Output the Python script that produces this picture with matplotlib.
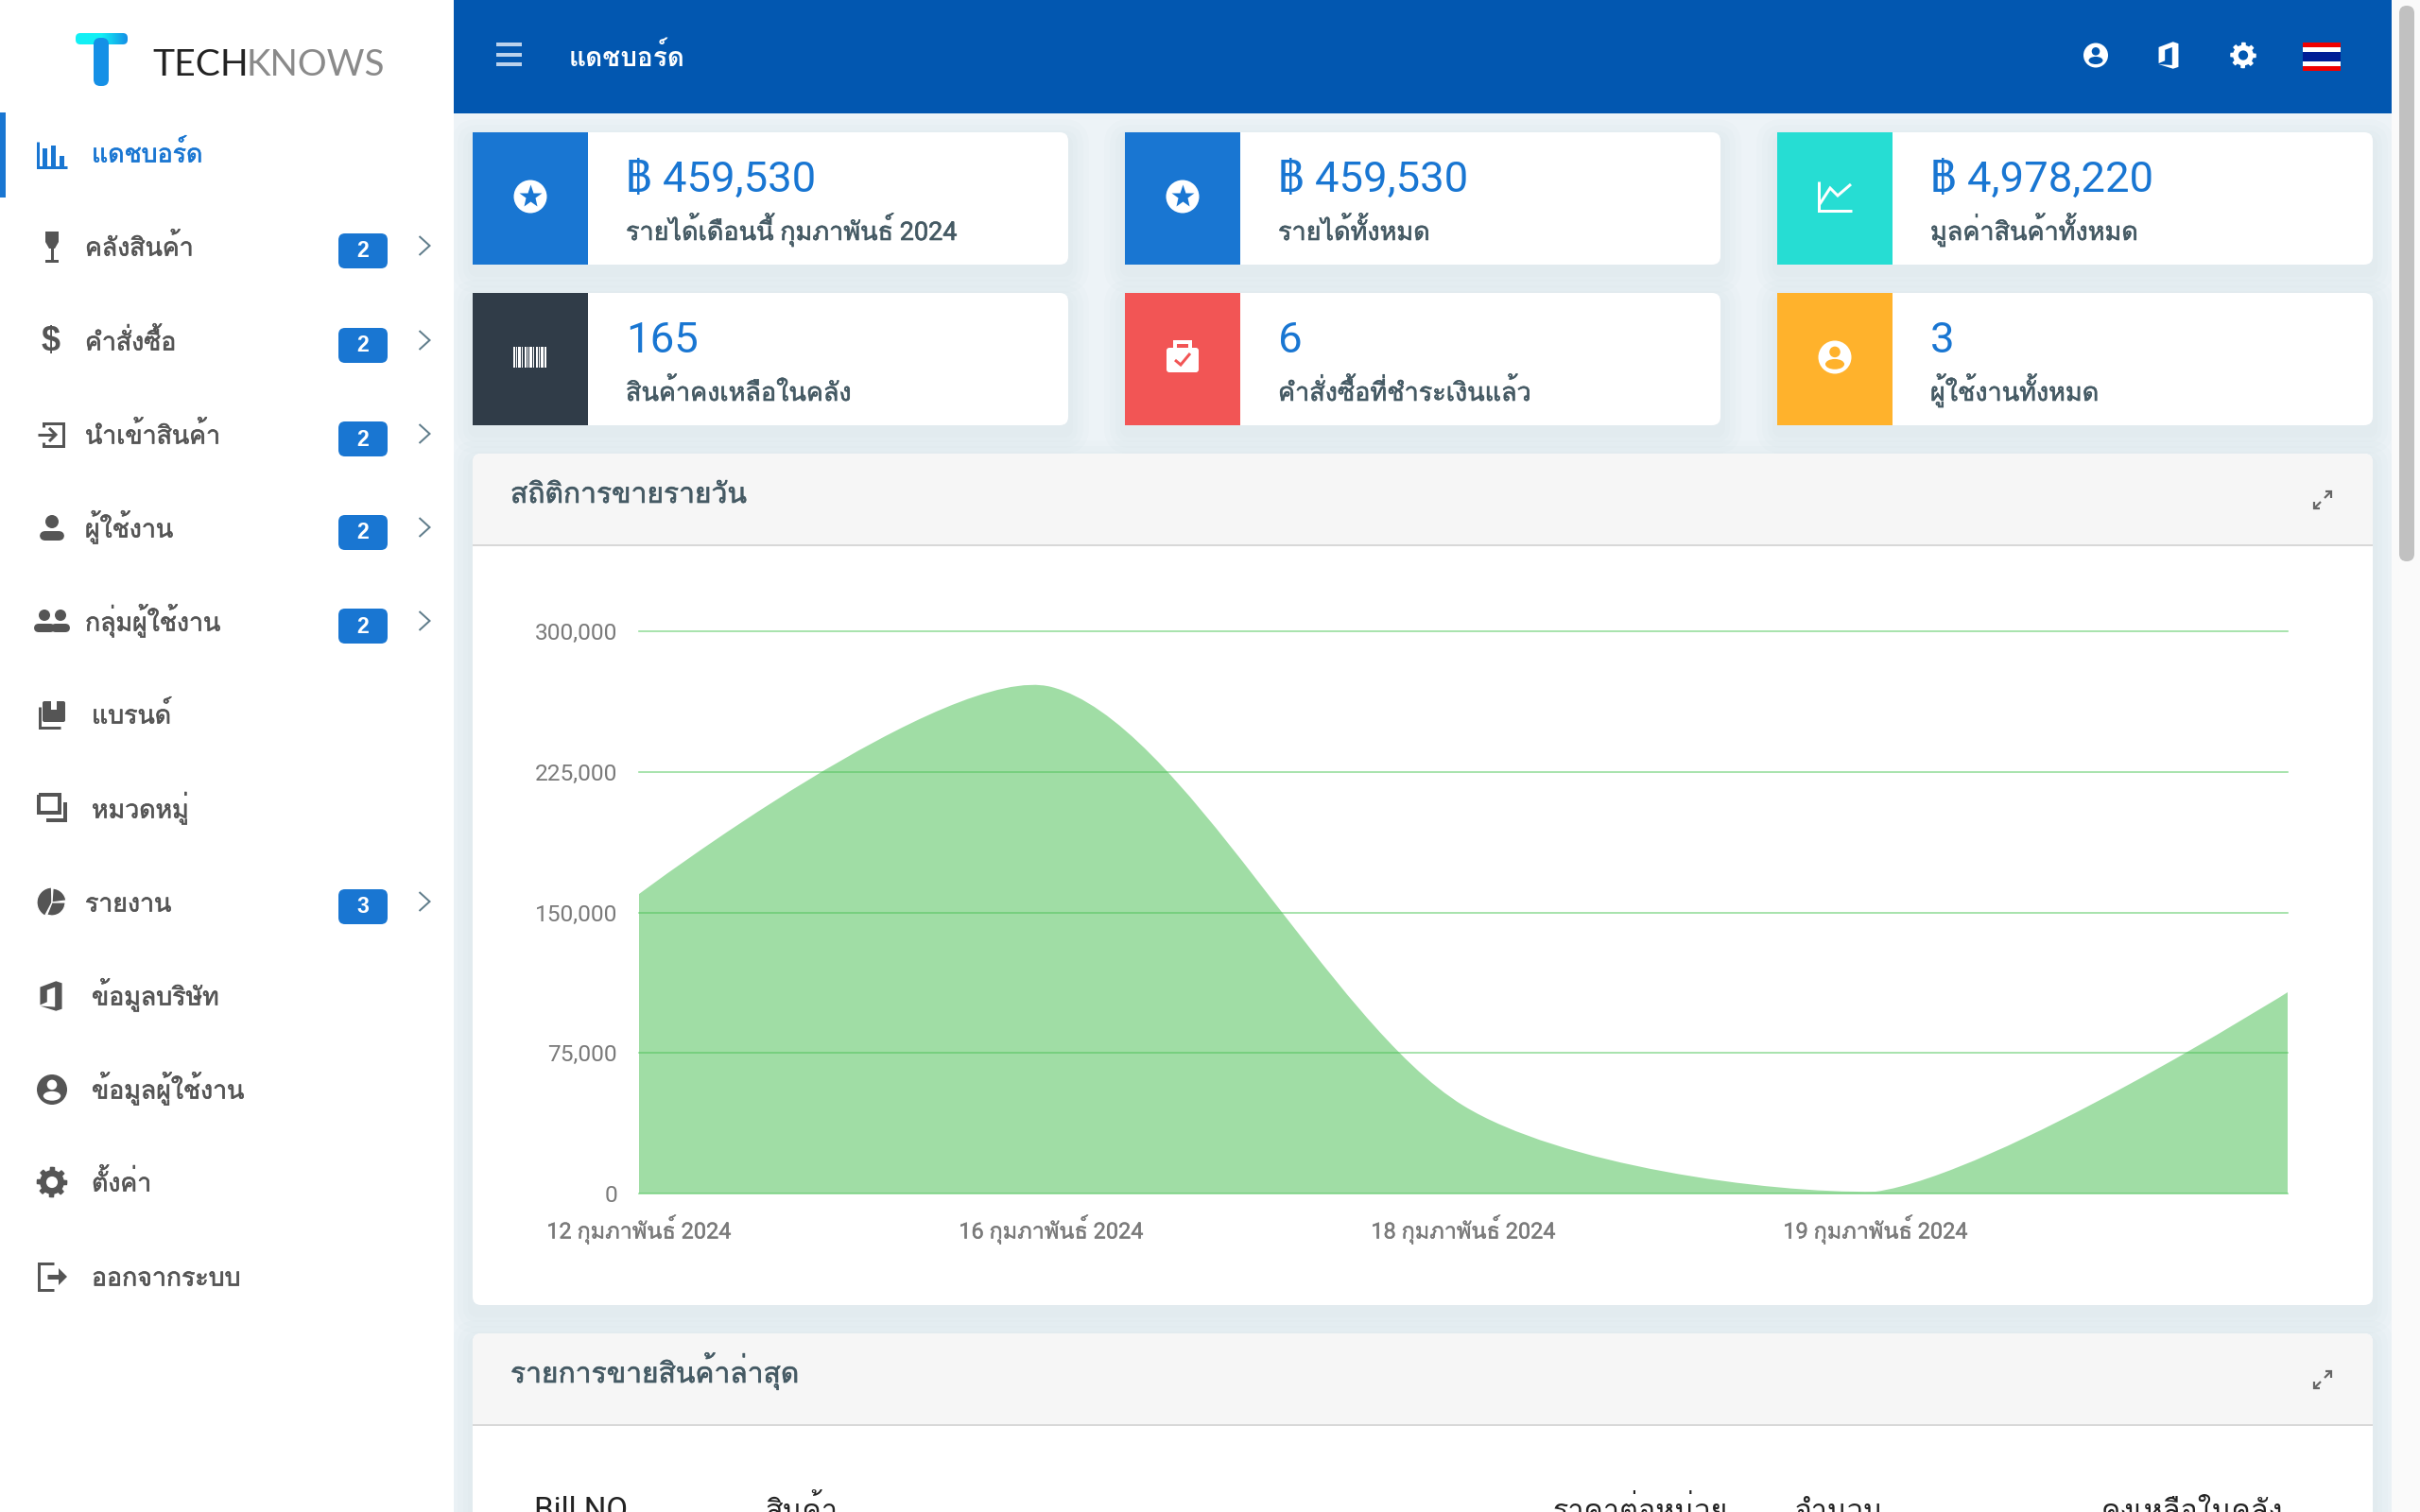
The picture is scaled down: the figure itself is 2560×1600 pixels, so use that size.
import matplotlib
matplotlib.use("Agg")
import matplotlib.patheffects as pe
import matplotlib.pyplot as plt
import numpy as np
from matplotlib.patches import Circle, Ellipse, FancyBboxPatch, PathPatch, Polygon, Rectangle, Wedge
from matplotlib.path import Path

THAI = ["Roboto", "Loma", "DejaVu Sans"]
plt.rcParams["font.family"] = THAI

BLUE = "#1976D2"
TEXT = "#455A64"
GREY = "#555555"

# chart data
day_labels = ["12 กุมภาพันธ์ 2024", "16 กุมภาพันธ์ 2024", "18 กุมภาพันธ์ 2024", "19 กุมภาพันธ์ 2024", ""]
sales = [159800, 270300, 46900, 1000, 107400]
y_ticks = [0, 75000, 150000, 225000, 300000]

# sidebar
menu_labels = ["แดชบอร์ด", "คลังสินค้า", "คำสั่งซื้อ", "นำเข้าสินค้า", "ผู้ใช้งาน", "กลุ่มผู้ใช้งาน",
               "แบรนด์", "หมวดหมู่", "รายงาน", "ข้อมูลบริษัท", "ข้อมูลผู้ใช้งาน", "ตั้งค่า", "ออกจากระบบ"]
menu_badges = [None, 2, 2, 2, 2, 2, None, None, 3, None, None, None, None]

# stat cards
card_values = ["฿ 459,530", "฿ 459,530", "฿ 4,978,220", "165", "6", "3"]
card_labels = ["รายได้เดือนนี้ กุมภาพันธ์ 2024", "รายได้ทั้งหมด", "มูลค่าสินค้าทั้งหมด",
               "สินค้าคงเหลือในคลัง", "คำสั่งซื้อที่ชำระเงินแล้ว", "ผู้ใช้งานทั้งหมด"]
card_colors = [BLUE, BLUE, "#26DDD3", "#303C48", "#F25555", "#FFB22C"]

table_heads = ["Bill NO", "สินค้า", "ราคาต่อหน่วย", "จำนวน", "คงเหลือในคลัง"]


def px(size):
    return size * 0.72


def thick(color, width=0.45):
    return [pe.withStroke(linewidth=width, foreground=color)]


def rect(ax, x0, y0, x1, y1, color, z=2, radius=0, alpha=None):
    if radius:
        p = FancyBboxPatch((x0 + radius, y0 + radius), x1 - x0 - 2 * radius, y1 - y0 - 2 * radius,
                           boxstyle=f"round,pad={radius},rounding_size={radius}",
                           fc=color, ec="none", zorder=z, alpha=alpha)
    else:
        p = Rectangle((x0, y0), x1 - x0, y1 - y0, fc=color, ec="none", zorder=z, alpha=alpha)
    ax.add_patch(p)
    return p


def shadow(ax, x0, y0, x1, y1):
    for grow in (22, 16, 10, 5):
        rect(ax, x0 - grow, y0 - grow + 8, x1 + grow, y1 + grow + 8, "#8FA6B5", z=1, radius=grow + 6, alpha=0.022)


def line(ax, xs, ys, color, lw=3.0, z=5, cap="butt", join="miter"):
    ax.plot(xs, ys, color=color, lw=px(lw), zorder=z, solid_capstyle=cap, solid_joinstyle=join)


def icon_account(ax, cx, cy, r, fg, bg):
    ax.add_patch(Circle((cx, cy), r, fc=fg, ec="none", zorder=5))
    ax.add_patch(Circle((cx, cy - r * 0.32), r * 0.33, fc=bg, ec="none", zorder=6))
    ax.add_patch(Ellipse((cx, cy + r * 0.42), r * 1.15, r * 0.62, fc=bg, ec="none", zorder=6))


def icon_star(ax, cx, cy, r, fg, bg):
    ax.add_patch(Circle((cx, cy), r, fc=fg, ec="none", zorder=5))
    ax.plot([cx], [cy], marker="*", ms=px(r * 1.45), color=bg, mec="none", zorder=6)


def icon_gear(ax, cx, cy, r, fg, bg):
    ang = np.linspace(0, 2 * np.pi, 96, endpoint=False)
    rad = r * (0.80 + 0.22 * (np.cos(8 * ang) > 0))
    ax.add_patch(Polygon(np.c_[cx + rad * np.cos(ang), cy + rad * np.sin(ang)], fc=fg, ec="none", zorder=5))
    ax.add_patch(Circle((cx, cy), r * 0.38, fc=bg, ec="none", zorder=6))


def icon_office(ax, cx, cy, s, fg):
    pts = [(-11, -9), (5, -15), (11, -13), (11, 13), (5, 15), (-11, 10), (4, 11), (4, -9), (-4, -6), (-4, 6), (-11, 9)]
    ax.add_patch(Polygon([(cx + a * s, cy + b * s) for a, b in pts], fc=fg, ec="none", zorder=5))


def icon_expand(ax, cx, cy):
    c = "#666666"
    line(ax, [cx - 8, cx - 2], [cy + 8, cy + 2], c, 2.2)
    line(ax, [cx + 2, cx + 8], [cy - 2, cy - 8], c, 2.2)
    line(ax, [cx - 9, cx - 9, cx - 3], [cy + 2, cy + 9, cy + 9], c, 2.2)
    line(ax, [cx + 3, cx + 9, cx + 9], [cy - 9, cy - 9, cy - 2], c, 2.2)


def draw_logo(ax):
    grad = np.linspace(0, 1, 64).reshape(1, -1)
    cmap = matplotlib.colors.LinearSegmentedColormap.from_list("logo", ["#12F0F5", "#12F0F5", "#1590E6"])
    im = ax.imshow(grad, extent=(80, 135, 47, 35), cmap=cmap, aspect="auto", zorder=4)
    clip = rect(ax, 80, 35, 135, 47, "none", z=1, radius=5)
    im.set_clip_path(clip)
    ax.set_xlim(0, 2560)
    ax.set_ylim(1600, 0)
    rect(ax, 99, 40, 115, 91, "#1590E6", z=5, radius=7)
    ax.text(161, 80, "TECH", fontsize=px(39), family=["Lato"], color="#222222", va="baseline", zorder=5)
    ax.text(261, 80, "KNOWS", fontsize=px(38.5), family=["Lato"], color="#8A8A8A", va="baseline", zorder=5)


def draw_menu_icon(ax, i, cy):
    cx = 55
    c = BLUE if i == 0 else GREY
    if i == 0:
        line(ax, [40, 40, 71], [150, 177, 177], c, 3)
        for bx, top in zip((45, 54, 63), (157, 154, 165)):
            rect(ax, bx, top, bx + 5, 177, c, z=5)
    elif i == 1:
        ax.add_patch(Polygon([(cx - 7, cy - 16), (cx + 7, cy - 16), (cx + 7, cy - 5), (cx + 3, cy + 2), (cx - 3, cy + 2), (cx - 7, cy - 5)],
                             fc=c, ec="none", zorder=5))
        rect(ax, cx - 1.5, cy, cx + 1.5, cy + 15, c, z=5)
        rect(ax, cx - 7, cy + 14, cx + 7, cy + 17, c, z=5)
    elif i == 2:
        ax.text(cx - 1, cy + 1, "$", fontsize=px(36), family=["Liberation Sans"], weight="bold", color=c,
                ha="center", va="center", zorder=5)
    elif i == 3:
        line(ax, [46, 46, 67, 67, 46, 46], [cy - 8, cy - 12, cy - 12, cy + 12, cy + 12, cy + 8], c, 3)
        line(ax, [40, 58], [cy, cy], c, 3)
        line(ax, [52, 59, 52], [cy - 7, cy, cy + 7], c, 3)
    elif i == 4:
        ax.add_patch(Circle((cx, cy - 7), 7, fc=c, ec="none", zorder=5))
        ax.add_patch(FancyBboxPatch((cx - 11, cy + 5), 22, 6, boxstyle="round,pad=2,rounding_size=6", fc=c, ec="none", zorder=5))
    elif i == 5:
        for dx, w in ((-8, 10), (9, 9)):
            ax.add_patch(Circle((cx + dx, cy - 7), 6, fc=c, ec="none", zorder=5))
            ax.add_patch(FancyBboxPatch((cx + dx - w + 1, cy + 4), 2 * w - 2, 5, boxstyle="round,pad=2,rounding_size=5", fc=c, ec="none", zorder=5))
    elif i == 6:
        rect(ax, 45, cy - 14, 69, cy + 8, c, z=5, radius=2)
        line(ax, [42, 42, 64], [cy - 8, cy + 14, cy + 14], c, 3)
        rect(ax, 54, cy - 14, 60, cy - 5, "white", z=6)
    elif i == 7:
        line(ax, [41, 63, 63, 41, 41], [cy - 15, cy - 15, cy + 4, cy + 4, cy - 15], c, 4)
        line(ax, [69, 69, 49], [cy - 7, cy + 12, cy + 12], c, 4)
    elif i == 8:
        # y runs downward here, so angles go clockwise on screen
        for a0, a1, r in ((118, 268, 16), (274, 352, 15), (0, 112, 14)):
            ax.add_patch(Wedge((cx, cy), r, a0, a1, fc=c, ec="white", lw=px(1.2), zorder=5))
    elif i == 9:
        icon_office(ax, cx - 1, cy, 1.05, c)
    elif i == 10:
        icon_account(ax, cx, cy, 16, c, "white")
    elif i == 11:
        icon_gear(ax, cx, cy, 16, c, "white")
    elif i == 12:
        line(ax, [57, 41, 41, 57], [cy - 14, cy - 14, cy + 14, cy + 14], c, 3)
        line(ax, [50, 66], [cy, cy], c, 5)
        ax.add_patch(Polygon([(62, cy - 9), (71, cy), (62, cy + 9)], fc=c, ec="none", zorder=5))


def draw_card_icon(ax, i, cx, cy):
    bg = card_colors[i]
    if i in (0, 1):
        icon_star(ax, cx, cy, 17.5, "white", bg)
    elif i == 2:
        line(ax, [cx - 17, cx - 17, cx + 18], [cy - 16, cy + 15, cy + 15], "white", 3)
        line(ax, [cx - 16, cx - 5, cx + 3, cx + 17], [cy + 8, cy - 9, cy - 1, cy - 13], "white", 3)
    elif i == 3:
        xp = cx - 18
        for w, gap in ((2, 1), (1, 1), (3, 1), (1, 2), (2, 1), (1, 1), (3, 1), (1, 2), (2, 1), (1, 1), (3, 1), (2, 0)):
            rect(ax, xp, cy - 11, xp + w, cy + 11, "white", z=5)
            xp += w + gap
    elif i == 4:
        rect(ax, cx - 17, cy - 10, cx + 17, cy + 16, "white", z=5, radius=3)
        line(ax, [cx - 8, cx - 8, cx + 8, cx + 8], [cy - 10, cy - 16, cy - 16, cy - 10], "white", 4)
        line(ax, [cx - 8, cx - 2, cx + 8], [cy + 3, cy + 8, cy - 4], bg, 3)
    elif i == 5:
        icon_account(ax, cx, cy, 17.5, "white", bg)


def draw_chrome(ax):
    rect(ax, 0, 0, 480, 1600, "white", z=3)
    rect(ax, 480, 0, 2530, 120, "#0257B0", z=3)
    rect(ax, 2530, 0, 2560, 1600, "#FAFAFA", z=3)
    rect(ax, 2538, 6, 2554, 594, "#C1C1C1", z=4, radius=8)
    rect(ax, 0, 119, 6, 209, BLUE, z=4)

    for y in (47, 57.5, 68):
        rect(ax, 525, y - 2, 552, y + 2, "#BBD2EC", z=5)
    ax.text(602, 70, menu_labels[0], fontsize=px(28), weight="bold", color="white", va="baseline", zorder=5)

    icon_account(ax, 2217, 58.5, 13, "white", "#0257B0")
    icon_office(ax, 2294, 58.5, 0.95, "white")
    icon_gear(ax, 2373, 58.5, 13.5, "white", "#0257B0")
    for y0, y1, col in ((45, 75, "#F00000"), (50, 70, "white"), (55, 65, "#001E96")):
        rect(ax, 2436, y0, 2476, y1, col, z=5)


def draw_menu(ax):
    rows = [162, 261, 361, 460, 559, 658, 756, 856, 955, 1054, 1153, 1251, 1351]
    for i, (label, badge, cy) in enumerate(zip(menu_labels, menu_badges, rows)):
        tx = 90 if badge else 97
        col = BLUE if i == 0 else GREY
        ax.text(tx, cy + 9.5, label, fontsize=px(26.7), color=col, va="baseline", zorder=5, path_effects=thick(col))
        draw_menu_icon(ax, i, cy)
        if badge:
            rect(ax, 358, cy - 14, 410, cy + 23, BLUE, z=5, radius=7)
            ax.text(384, cy + 5, str(badge), fontsize=px(23), family=["Liberation Sans"], weight="bold",
                    color="white", ha="center", va="center", zorder=6)
            line(ax, [443.5, 454.5, 443.5], [cy - 11, cy - 1, cy + 9], "#607D8B", 2)


def draw_cards(ax):
    xs = [(500, 622, 1130, 662), (1190, 1312, 1820, 1352), (1880, 2002, 2510, 2042)]
    ys = [(140, 280), (310, 450)]
    for i in range(6):
        x0, xi, x1, tx = xs[i % 3]
        y0, y1 = ys[i // 3]
        shadow(ax, x0, y0, x1, y1)
        rect(ax, x0, y0, x1, y1, "white", z=2, radius=9)
        rect(ax, x0, y0, xi, y1, card_colors[i], z=3)
        draw_card_icon(ax, i, (x0 + xi) / 2, (y0 + y1) / 2 - 2)
        ax.text(tx, y0 + 63, card_values[i], fontsize=px(45.5), color=BLUE, va="baseline", zorder=5)
        ax.text(tx, y0 + 114, card_labels[i], fontsize=px(27), color=TEXT, va="baseline", zorder=5,
                path_effects=thick(TEXT))


def draw_panel(ax, y0, y1, title, bottom_open=False):
    shadow(ax, 500, y0, 2510, y1)
    rect(ax, 500, y0, 2510, y1 + (30 if bottom_open else 0), "white", z=2, radius=9)
    rect(ax, 500, y0, 2510, y0 + 60, "#F6F6F6", z=2, radius=9)
    rect(ax, 500, y0 + 20, 2510, y0 + 96, "#F6F6F6", z=2)
    rect(ax, 500, y0 + 96, 2510, y0 + 98, "#D8D8D8", z=3)
    ax.text(540, y0 + 52, title, fontsize=px(30), color=TEXT, va="baseline", zorder=5, path_effects=thick(TEXT))
    icon_expand(ax, 2457, y0 + 49)


def draw_chart(fig, W, H):
    left, right, top, bottom = 676, 2420, 668, 1263
    ax = fig.add_axes([left / W, 1 - bottom / H, (right - left) / W, (bottom - top) / H], zorder=2)
    ax.patch.set_alpha(0)
    xs = np.arange(len(sales))
    ax.set_xlim(xs[0], xs[-1])
    ax.set_ylim(0, y_ticks[-1])

    # same kind of spline as the chart on the page, worked out in pixels
    tension = 0.28
    pts = ax.transData.transform(np.c_[xs, sales])
    verts = [pts[0]]
    codes = [Path.MOVETO]
    out_ctrl = pts[0]
    for i in range(1, len(pts)):
        if i < len(pts) - 1:
            d01 = np.hypot(*(pts[i] - pts[i - 1]))
            d12 = np.hypot(*(pts[i + 1] - pts[i]))
            tan = pts[i + 1] - pts[i - 1]
            in_ctrl = pts[i] - tension * d01 / (d01 + d12) * tan
            next_ctrl = pts[i] + tension * d12 / (d01 + d12) * tan
        else:
            in_ctrl = pts[i]
            next_ctrl = pts[i]
        verts += [out_ctrl, in_ctrl, pts[i]]
        codes += [Path.CURVE4] * 3
        out_ctrl = next_ctrl
    base = ax.transData.transform([(xs[-1], 0), (xs[0], 0)])
    verts += [base[0], base[1], pts[0]]
    codes += [Path.LINETO, Path.LINETO, Path.CLOSEPOLY]
    verts = ax.transData.inverted().transform(np.array(verts))
    verts[:, 1] = np.clip(verts[:, 1], 0, y_ticks[-1])
    ax.add_patch(PathPatch(Path(verts, codes), fc="#4CBF56", ec="none", alpha=0.53, zorder=3))

    ax.set_yticks(y_ticks, [f"{v:,}" for v in y_ticks])
    ax.set_xticks(xs, day_labels)
    ax.grid(axis="y", color="#94DD9B", lw=px(1.6))
    ax.set_axisbelow(True)
    for gl in ax.get_ygridlines():
        gl.set_clip_on(False)
    ax.tick_params(length=0, labelcolor="#7A7A7A")
    ax.tick_params(axis="y", labelsize=px(24.5), pad=px(23))
    ax.tick_params(axis="x", labelsize=px(23.5), pad=px(23.5))
    for s in ax.spines.values():
        s.set_visible(False)
    for lab in ax.get_xticklabels():
        lab.set_path_effects(thick("#7A7A7A", 0.3))


def main():
    W, H = 2560, 1600
    fig = plt.figure(figsize=(W / 100, H / 100), dpi=100, facecolor="#EDF3F7")
    ax = fig.add_axes([0, 0, 1, 1], zorder=1)
    ax.set_xlim(0, W)
    ax.set_ylim(H, 0)
    ax.axis("off")

    draw_logo(ax)
    draw_chrome(ax)
    draw_menu(ax)
    draw_cards(ax)
    draw_panel(ax, 480, 1381, "สถิติการขายรายวัน")
    draw_panel(ax, 1411, 1600, "รายการขายสินค้าล่าสุด", bottom_open=True)
    draw_chart(fig, W, H)

    for x, head in zip((565, 809, 1642, 1899, 2223), table_heads):
        size = 33 if head == "Bill NO" else 30.5
        ax.text(x, 1608, head, fontsize=px(size), color="#222222", va="baseline", zorder=5)

    fig.savefig("out.png", dpi=100, facecolor=fig.get_facecolor())
    plt.close(fig)


if __name__ == "__main__":
    main()
